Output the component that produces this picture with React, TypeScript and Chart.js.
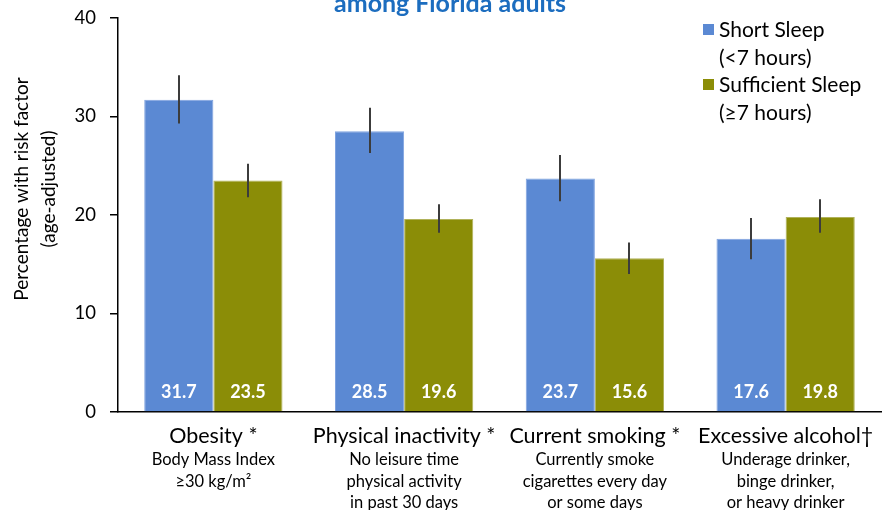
import React, { useEffect, useRef } from "react";
import { Chart, registerables } from "chart.js";

Chart.register(...registerables);

const categories = ["Obesity *", "Physical inactivity *", "Current smoking *", "Excessive alcohol†"];
const subLabels = [
  ["Body Mass Index", "≥30 kg/m²"],
  ["No leisure time", "physical activity", "in past 30 days"],
  ["Currently smoke", "cigarettes every day", "or some days"],
  ["Underage drinker,", "binge drinker,", "or heavy drinker"],
];
const shortSleep = [31.7, 28.5, 23.7, 17.6];
const sufficientSleep = [23.5, 19.6, 15.6, 19.8];
const shortLow = [29.3, 26.3, 21.4, 15.5];
const shortHigh = [34.2, 30.9, 26.1, 19.7];
const suffLow = [21.8, 18.2, 14.0, 18.2];
const suffHigh = [25.2, 21.1, 17.2, 21.6];
const legendLines = [
  ["Short Sleep", "(<7 hours)"],
  ["Sufficient Sleep", "(≥7 hours)"],
];
const yTitle = ["Percentage with risk factor", "(age-adjusted)"];
const titleText = "among Florida adults";

const BLUE = "#5b89d3";
const GREEN = "#8b8d07";
const FONT = "Lato";

const extrasPlugin = {
  id: "extras",
  afterDatasetsDraw(chart: any) {
    const ctx = chart.ctx;
    const y = chart.scales.y;
    const x = chart.scales.x;
    const lows = [shortLow, suffLow];
    const highs = [shortHigh, suffHigh];
    const values = [shortSleep, sufficientSleep];
    ctx.save();
    // error bars
    chart.data.datasets.forEach((_: any, di: number) => {
      const meta = chart.getDatasetMeta(di);
      meta.data.forEach((bar: any, i: number) => {
        ctx.strokeStyle = "#3c3c3c";
        ctx.lineWidth = 2;
        ctx.beginPath();
        ctx.moveTo(Math.round(bar.x), y.getPixelForValue(highs[di][i]));
        ctx.lineTo(Math.round(bar.x), y.getPixelForValue(lows[di][i]));
        ctx.stroke();
        // value labels
        ctx.fillStyle = "#ffffff";
        ctx.font = `bold 18px ${FONT}`;
        ctx.textAlign = "center";
        ctx.textBaseline = "alphabetic";
        ctx.fillText(values[di][i].toFixed(1), bar.x, y.getPixelForValue(0) - 14);
      });
    });
    // category labels
    categories.forEach((c, i) => {
      const cx = x.getPixelForValue(i);
      ctx.fillStyle = "#000";
      ctx.textAlign = "center";
      ctx.textBaseline = "alphabetic";
      ctx.font = `21.5px ${FONT}`;
      ctx.fillText(c, cx, 443);
      ctx.font = `16.5px ${FONT}`;
      subLabels[i].forEach((s, j) => {
        ctx.fillText(s, cx, 465 + j * 21.7);
      });
    });
    // y title
    ctx.save();
    ctx.translate(0, 189);
    ctx.rotate(-Math.PI / 2);
    ctx.font = `19px ${FONT}`;
    ctx.textAlign = "center";
    ctx.textBaseline = "middle";
    ctx.fillStyle = "#000";
    ctx.fillText(yTitle[0], 0, 22);
    ctx.fillText(yTitle[1], 0, 49);
    ctx.restore();
    // title
    ctx.font = `bold 25px ${FONT}`;
    ctx.fillStyle = "#1c6dbf";
    ctx.textAlign = "center";
    ctx.textBaseline = "alphabetic";
    ctx.fillText(titleText, 450, 12);
    // legend
    const colors = [BLUE, GREEN];
    const baseY = [37, 92];
    legendLines.forEach((lines, k) => {
      ctx.fillStyle = colors[k];
      ctx.fillRect(703, baseY[k] - 13, 11, 11);
      ctx.fillStyle = "#000";
      ctx.font = `21px ${FONT}`;
      ctx.textAlign = "left";
      lines.forEach((l, j) => ctx.fillText(l, 719, baseY[k] + j * 27.5));
    });
    ctx.restore();
  },
};

export default function App() {
  const ref = useRef<HTMLCanvasElement>(null);
  useEffect(() => {
    document.body.style.margin = "0";
    const chart = new Chart(ref.current as HTMLCanvasElement, {
      type: "bar",
      data: {
        labels: categories,
        datasets: [
          {
            label: "Short Sleep (<7 hours)",
            data: shortSleep,
            backgroundColor: BLUE,
            borderColor: "#7fa3e0",
            borderWidth: 1,
            categoryPercentage: 0.725,
            barPercentage: 1,
          },
          {
            label: "Sufficient Sleep (≥7 hours)",
            data: sufficientSleep,
            backgroundColor: GREEN,
            borderColor: "#b0b25a",
            borderWidth: 1,
            categoryPercentage: 0.725,
            barPercentage: 1,
          },
        ],
      },
      options: {
        animation: false,
        responsive: true,
        maintainAspectRatio: false,
        layout: { padding: { top: 18, right: 6, left: 0, bottom: 0 } },
        plugins: { legend: { display: false }, tooltip: { enabled: false }, title: { display: false } },
        scales: {
          x: {
            ticks: { display: false },
            grid: { display: false },
            border: { display: true, color: "#000", width: 1.5 },
            afterFit: (s: any) => {
              s.height = 98;
            },
          },
          y: {
            min: 0,
            max: 40,
            ticks: { stepSize: 10, color: "#000", font: { family: FONT, size: 18.5 }, padding: 14 },
            grid: { display: true, drawOnChartArea: false, drawTicks: true, tickLength: 8, color: "#000", lineWidth: 1.5 },
            border: { display: true, color: "#000", width: 1.5 },
            afterFit: (s: any) => {
              s.width = 118;
              s.paddingTop = 0;
              s.paddingBottom = 0;
            },
          },
        },
      },
      plugins: [extrasPlugin],
    });
    return () => chart.destroy();
  }, []);
  return (
    <div style={{ width: 887, height: 510, position: "relative" }}>
      <canvas ref={ref} />
    </div>
  );
}
